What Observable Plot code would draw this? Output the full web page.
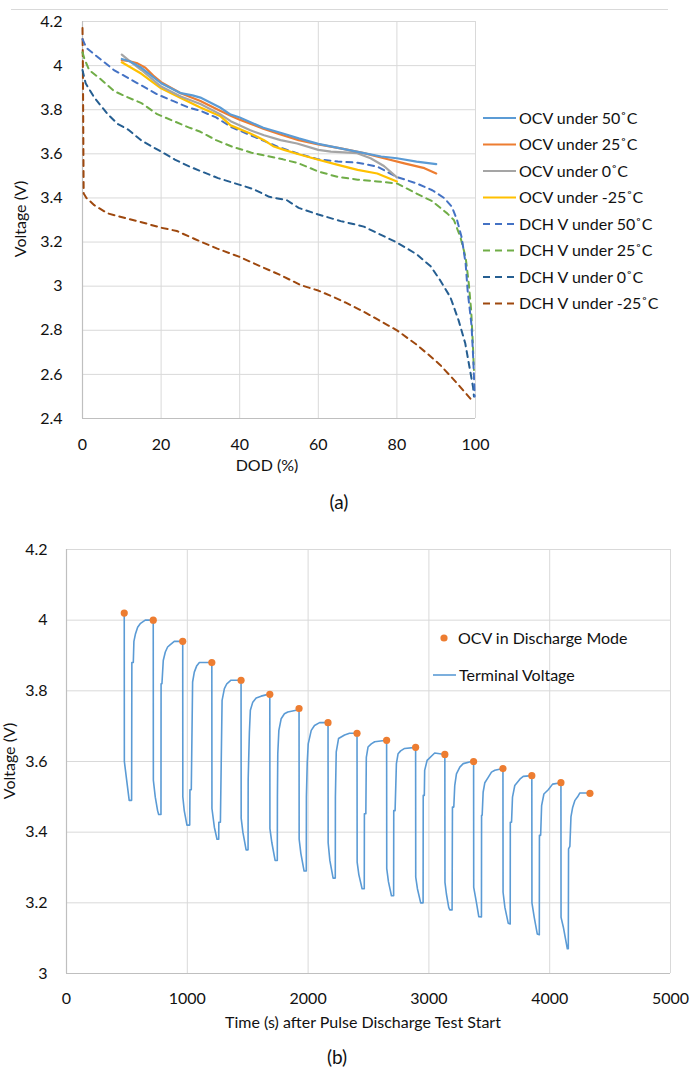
<!DOCTYPE html>
<html>
<head>
<meta charset="utf-8">
<script src="https://cdn.jsdelivr.net/npm/d3@7"></script>
<script src="https://cdn.jsdelivr.net/npm/@observablehq/plot@0.6"></script>
<style>
  html, body { margin: 0; padding: 0; background: #fff; }
  #page { position: relative; width: 693px; height: 1075px; overflow: hidden; background: #fff; }
  #page > svg { position: absolute; left: 0; }
  #chartA { top: 0; }
  #chartB { top: 530px; }
  text { font-family: Lato, "Open Sans", sans-serif; }
</style>
</head>
<body>
<div id="page"></div>
<script>
// ---------- Chart (a) data: DOD (%) vs Voltage (V) ----------
const xTicksA = [0, 20, 40, 60, 80, 100];
const yTicksA = [2.4, 2.6, 2.8, 3, 3.2, 3.4, 3.6, 3.8, 4, 4.2];
const seriesNamesA = ["OCV under 50˚C", "OCV under 25˚C", "OCV under 0˚C", "OCV under -25˚C",
  "DCH V under 50˚C", "DCH V under 25˚C", "DCH V under 0˚C", "DCH V under -25˚C"];
const seriesColorsA = ["#5B9BD5", "#ED7D31", "#A5A5A5", "#FFC000", "#4472C4", "#70AD47", "#255E91", "#9E480E"];
const seriesDashedA = [false, false, false, false, true, true, true, true];

const ocv50 = [[10,4.03],[12,4.02],[15,3.99],[20,3.92],[25,3.875],[28,3.865],[30,3.855],[35,3.81],[37.7,3.778],[40,3.765],[46,3.718],[51,3.692],[55,3.67],[60,3.645],[65,3.627],[71.6,3.603],[76,3.588],[80,3.58],[85,3.565],[90,3.553]];
const ocv25 = [[10,4.025],[12,4.02],[14,4.01],[16,3.99],[18,3.955],[20,3.925],[25,3.875],[30,3.84],[35,3.795],[37.7,3.773],[40,3.755],[46,3.714],[50,3.69],[55,3.662],[60,3.643],[65.7,3.625],[71.6,3.603],[76.7,3.58],[81.9,3.557],[87,3.535],[90,3.511]];
const ocv0 = [[10,4.05],[12,4.02],[15,3.98],[20,3.905],[25,3.86],[30,3.826],[35,3.78],[37.7,3.748],[42.7,3.707],[46.2,3.684],[50.4,3.662],[54.6,3.647],[60,3.618],[63.2,3.61],[69.9,3.603],[73.3,3.58],[76.7,3.545],[80,3.493]];
const ocvm25 = [[10,4.015],[15,3.963],[20,3.897],[25,3.853],[30,3.81],[35,3.772],[37.7,3.729],[42.7,3.692],[46.2,3.662],[48.7,3.633],[51.3,3.618],[55,3.598],[60,3.573],[65,3.55],[70,3.527],[75,3.511],[80,3.475]];
const dch50 = [[0,4.12],[1,4.08],[4.5,4.03],[8,3.98],[11,3.95],[15,3.91],[19,3.87],[23,3.84],[27,3.81],[30,3.795],[34,3.765],[38,3.72],[42,3.69],[46,3.66],[50,3.63],[55,3.60],[60,3.575],[65,3.565],[70,3.56],[75,3.542],[80,3.495],[85,3.466],[89,3.435],[92,3.40],[94,3.36],[95.3,3.30],[96.5,3.22],[97.5,3.10],[98,2.98],[98.5,2.90],[99,2.82],[99.4,2.68],[99.7,2.55],[99.8,2.50]];
const dch25 = [[0,4.06],[0.5,4.03],[1.7,3.98],[4.5,3.94],[8,3.885],[11,3.86],[15,3.83],[19,3.78],[23,3.75],[27,3.72],[30,3.70],[34,3.662],[38,3.633],[43,3.605],[47,3.59],[51,3.575],[55,3.557],[60,3.52],[65,3.495],[70,3.483],[75,3.475],[80,3.466],[85,3.42],[89,3.385],[92.8,3.33],[94.5,3.30],[96.2,3.22],[97.5,3.13],[98.3,3.01],[98.9,2.89],[99.3,2.75],[99.6,2.62]];
const dch0 = [[0,3.98],[0.8,3.92],[3,3.855],[6.4,3.78],[9,3.735],[11.6,3.71],[15,3.66],[20,3.61],[23.5,3.574],[27,3.544],[30,3.522],[34.5,3.49],[39,3.465],[43.5,3.44],[47.5,3.405],[52,3.39],[55,3.355],[60,3.325],[65.7,3.295],[71.6,3.27],[80,3.198],[85,3.145],[88.6,3.09],[91,3.027],[93.6,2.95],[95.7,2.845],[97.4,2.74],[98.5,2.63],[99.4,2.54],[99.6,2.50]];
const dchm25 = [[0,4.17],[0.1,4.0],[0.2,3.7],[0.3,3.42],[1,3.40],[3,3.367],[6.4,3.33],[10.6,3.31],[15,3.29],[20,3.265],[24,3.25],[28.4,3.215],[34.3,3.17],[39.8,3.134],[45.3,3.09],[50.4,3.05],[55.5,3.005],[60,2.98],[64,2.95],[67,2.925],[72,2.88],[76,2.84],[80,2.80],[85,2.735],[88,2.69],[91,2.643],[95.3,2.56],[98.7,2.49]];
const seriesDataA = [ocv50, ocv25, ocv0, ocvm25, dch50, dch25, dch0, dchm25];

// ---------- Chart (b) data: time (s) vs voltage (V) ----------
const xTicksB = [0, 1000, 2000, 3000, 4000, 5000];
const yTicksB = [3, 3.2, 3.4, 3.6, 3.8, 4, 4.2];
const ocvTimes = [478, 718, 962, 1203, 1445, 1683, 1925, 2165, 2405, 2650, 2890, 3132, 3370, 3613, 3852, 4093, 4333];
const ocvValues = [4.02, 4.00, 3.94, 3.88, 3.83, 3.79, 3.75, 3.71, 3.68, 3.66, 3.64, 3.62, 3.60, 3.58, 3.56, 3.54, 3.51];
const terminalTime = [
  478,479,497,519,539,541,553,558,570,589,610,652,
  718,719,735,754,763,782,783,790,801,818,837,857,892,
  962,963,975,997,1020,1022,1033,1044,1058,1077,1100,
  1203,1204,1224,1246,1260,1261,1274,1288,1307,1327,1362,
  1445,1446,1460,1487,1503,1504,1514,1522,1542,1570,1611,1667,
  1683,1684,1700,1727,1745,1746,1749,1758,1777,1804,1832,1901,
  1925,1926,1940,1967,1985,1986,1993,2001,2026,2053,2095,
  2165,2166,2180,2207,2225,2226,2233,2252,2302,2343,
  2405,2406,2420,2447,2465,2466,2478,2482,2496,2523,2551,
  2650,2651,2665,2690,2708,2709,2720,2731,2745,2766,2799,
  2890,2891,2905,2932,2952,2953,2962,2965,2985,3048,
  3132,3133,3145,3164,3173,3192,3195,3206,3214,3228,3256,3284,3353,
  3370,3371,3394,3413,3435,3436,3441,3449,3463,3491,3518,3546,
  3613,3614,3629,3657,3673,3674,3684,3692,3711,3753,3781,
  3852,3853,3872,3897,3914,3915,3925,3933,3952,3988,4024,
  4093,4094,4113,4146,4154,4156,4167,4176,4190,4209,4231,4250,4333
];
const terminalVoltage = [
  4.02,3.60,3.55,3.49,3.49,3.88,3.88,3.94,3.96,3.98,3.99,4.00,
  4.00,3.547,3.499,3.461,3.45,3.45,3.82,3.82,3.886,3.91,3.924,3.93,3.94,
  3.94,3.50,3.46,3.42,3.42,3.52,3.52,3.825,3.853,3.87,3.88,
  3.88,3.467,3.414,3.38,3.38,3.428,3.428,3.773,3.806,3.82,3.83,
  3.83,3.44,3.40,3.35,3.35,3.55,3.683,3.745,3.768,3.78,3.785,3.79,
  3.79,3.41,3.37,3.32,3.32,3.50,3.622,3.688,3.721,3.735,3.74,3.745,
  3.75,3.38,3.34,3.29,3.29,3.50,3.598,3.65,3.688,3.702,3.71,
  3.71,3.37,3.32,3.27,3.27,3.50,3.627,3.665,3.675,3.68,
  3.68,3.315,3.28,3.24,3.24,3.452,3.452,3.612,3.641,3.65,3.656,
  3.66,3.297,3.26,3.22,3.22,3.461,3.461,3.594,3.622,3.63,3.637,
  3.64,3.273,3.24,3.20,3.20,3.504,3.504,3.575,3.603,3.624,
  3.62,3.258,3.225,3.187,3.18,3.18,3.471,3.471,3.532,3.565,3.584,3.594,3.60,
  3.60,3.244,3.20,3.161,3.16,3.448,3.448,3.513,3.54,3.555,3.57,3.575,
  3.58,3.23,3.187,3.142,3.14,3.428,3.428,3.499,3.532,3.55,3.558,
  3.56,3.20,3.159,3.112,3.11,3.391,3.391,3.475,3.508,3.52,3.536,
  3.54,3.159,3.131,3.07,3.07,3.353,3.36,3.443,3.47,3.49,3.50,3.511,3.511
];

// ---------- build tables ----------
const rowsA = seriesDataA.map((pts, i) => pts.map(([x, y]) => ({series: seriesNamesA[i], x, y})));
const termRows = terminalTime.map((t, i) => ({t, v: terminalVoltage[i]}));
const ocvRows = ocvTimes.map((t, i) => ({t, v: ocvValues[i]}));

const gridColor = "#d9d9d9";
const axisColor = "#bfbfbf";
const textColor = "#111";
const plotStyle = {fontFamily: "Lato, 'Open Sans', sans-serif", fontSize: "16px", color: textColor, background: "transparent"};

const chartA = Plot.plot({
  width: 693, height: 480,
  marginLeft: 82, marginRight: 218, marginTop: 21, marginBottom: 62,
  style: plotStyle,
  x: {domain: [0, 100], ticks: xTicksA, tickSize: 0, tickPadding: 20, label: null},
  y: {domain: [2.4, 4.2], ticks: yTicksA, tickSize: 0, tickPadding: 20, label: null, tickFormat: d => String(d)},
  marks: [
    Plot.ruleX(xTicksA, {stroke: gridColor, strokeWidth: 1}),
    Plot.ruleY(yTicksA, {stroke: gridColor, strokeWidth: 1}),
    Plot.ruleX([0], {stroke: axisColor, strokeWidth: 1.2}),
    Plot.ruleY([2.4], {stroke: axisColor, strokeWidth: 1.2}),
    ...rowsA.map((rows, i) => Plot.line(rows, {
      x: "x", y: "y", stroke: seriesColorsA[i],
      strokeWidth: seriesDashedA[i] ? 2 : 2.2,
      strokeDasharray: seriesDashedA[i] ? "6,5" : null,
      curve: "linear"
    })).reverse()
  ]
});
chartA.id = "chartA";

const chartB = Plot.plot({
  width: 693, height: 500,
  marginLeft: 66, marginRight: 23, marginTop: 19, marginBottom: 57,
  style: plotStyle,
  x: {domain: [0, 5000], ticks: xTicksB, tickSize: 0, tickPadding: 19, label: null, tickFormat: d => String(d)},
  y: {domain: [3, 4.2], ticks: yTicksB, tickSize: 0, tickPadding: 19, label: null, tickFormat: d => String(d)},
  marks: [
    Plot.ruleX(xTicksB, {stroke: gridColor, strokeWidth: 1}),
    Plot.ruleY(yTicksB, {stroke: gridColor, strokeWidth: 1}),
    Plot.ruleX([0], {stroke: axisColor, strokeWidth: 1.2}),
    Plot.ruleY([3], {stroke: axisColor, strokeWidth: 1.2}),
    Plot.line(termRows, {x: "t", y: "v", stroke: "#5B9BD5", strokeWidth: 1.6}),
    Plot.dot(ocvRows, {x: "t", y: "v", r: 3.6, fill: "#ED7D31", stroke: "none"})
  ]
});
chartB.id = "chartB";

const page = document.getElementById("page");
page.appendChild(chartA);
page.appendChild(chartB);

// ---------- overlay: titles, legends, captions ----------
const ov = d3.select(page).append("svg")
  .attr("width", 693).attr("height", 1075)
  .style("position", "absolute").style("left", "0").style("top", "0")
  .style("pointer-events", "none");

ov.append("line").attr("x1", 11).attr("x2", 668).attr("y1", 9.5).attr("y2", 9.5)
  .attr("stroke", gridColor).attr("stroke-width", 1);

const txt = (x, y, s, opts = {}) => ov.append("text")
  .attr("x", x).attr("y", y).text(s)
  .attr("font-size", opts.size || 16)
  .attr("fill", opts.fill || textColor)
  .attr("text-anchor", opts.anchor || "start")
  .attr("font-family", opts.family || "Lato, 'Open Sans', sans-serif")
  .attr("transform", opts.transform || null);

// chart (a) titles
txt(0, 0, "Voltage (V)", {anchor: "middle", transform: "translate(26,219) rotate(-90)"});
txt(267, 471, "DOD (%)", {anchor: "middle"});
txt(339, 509, "(a)", {anchor: "middle", size: 19, family: "'Liberation Serif', 'DejaVu Serif', serif"});

// chart (a) legend
const legRows = [118, 144.5, 171, 197.5, 224, 250.5, 277, 303.5];
seriesNamesA.forEach((name, i) => {
  const y = legRows[i];
  ov.append("line").attr("x1", 483).attr("x2", 516).attr("y1", y).attr("y2", y)
    .attr("stroke", seriesColorsA[i]).attr("stroke-width", 2)
    .attr("stroke-dasharray", seriesDashedA[i] ? "7,5" : null);
  txt(519, y + 5.8, name);
});

// chart (b) titles
txt(0, 0, "Voltage (V)", {anchor: "middle", transform: "translate(15,761) rotate(-90)"});
txt(363, 1028, "Time (s) after Pulse Discharge Test Start", {anchor: "middle"});
txt(337, 1064, "(b)", {anchor: "middle", size: 19, family: "'Liberation Serif', 'DejaVu Serif', serif"});

// chart (b) legend
ov.append("circle").attr("cx", 444).attr("cy", 638).attr("r", 3.6).attr("fill", "#ED7D31");
txt(458, 643.8, "OCV in Discharge Mode");
ov.append("line").attr("x1", 433).attr("x2", 456).attr("y1", 675).attr("y2", 675)
  .attr("stroke", "#5B9BD5").attr("stroke-width", 1.6);
txt(459, 680.8, "Terminal Voltage");
</script>
</body>
</html>
